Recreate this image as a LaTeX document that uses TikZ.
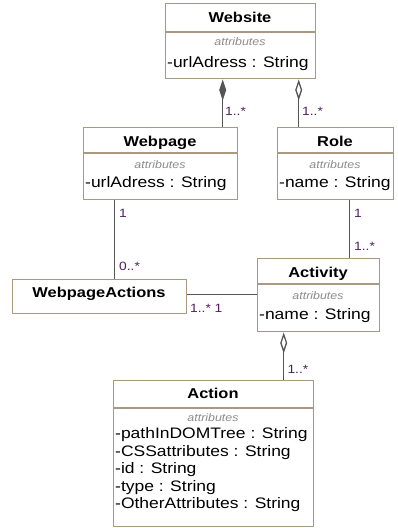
\documentclass[tikz,border=0pt]{standalone}
\usepackage{fontspec}
\setmainfont{Liberation Sans}[FakeStretch=1.15]
\usetikzlibrary{arrows.meta,calc}
\definecolor{boxline}{RGB}{172,152,128}
\definecolor{wirecol}{RGB}{85,85,85}
\definecolor{multcol}{RGB}{80,30,95}
\definecolor{tagcol}{RGB}{140,140,140}

\begin{document}
\begin{tikzpicture}[x=1pt,y=-1pt,
  cls/.style={draw=boxline, line width=1.4pt, fill=white, inner sep=0pt, anchor=north west},
  divider/.style={draw=boxline, line width=1.4pt},
  ctitle/.style={font=\fontsize{14.3}{16}\selectfont\bfseries, inner sep=0pt, anchor=base},
  ctag/.style={font=\fontsize{10.8}{12}\selectfont\itshape, text=tagcol, inner sep=0pt, anchor=base},
  cattr/.style={font=\fontsize{15.2}{17.5}\selectfont, inner sep=0pt, anchor=base west},
  mult/.style={font=\fontsize{12}{14}\selectfont, text=multcol, inner sep=0pt, anchor=base west},
  wire/.style={draw=wirecol, line width=1.3pt},
  compo/.style={wire, {Diamond[length=21pt,width=7pt,fill=wirecol]}-},
  aggr/.style={wire, {Diamond[open,length=21pt,width=7pt,fill=white]}-}
]
\fill[white] (0,0) rectangle (398,528);
\useasboundingbox (0,0) rectangle (398,528);

% Website
\node[cls, minimum width=150pt, minimum height=75pt] (website) at (165,3) {};
\draw[divider] ([yshift=-29pt]website.north west) -- ([yshift=-29pt]website.north east);
\node[ctitle] (websiteT) at (240,22.5) {Website};
\node[ctag] (websiteS) at (240,45.5) {attributes};
\node[cattr] (websiteA) at (167,67) {-urlAdress : String};

% Webpage
\node[cls, minimum width=154pt, minimum height=72pt] (webpage) at (83,127) {};
\draw[divider] ([yshift=-26pt]webpage.north west) -- ([yshift=-26pt]webpage.north east);
\node[ctitle] (webpageT) at (160,146) {Webpage};
\node[ctag] (webpageS) at (160,168) {attributes};
\node[cattr] (webpageA) at (85,187) {-urlAdress : String};

% Role
\node[cls, minimum width=116pt, minimum height=72pt] (role) at (277,127) {};
\draw[divider] ([yshift=-26pt]role.north west) -- ([yshift=-26pt]role.north east);
\node[ctitle] (roleT) at (335,146) {Role};
\node[ctag] (roleS) at (335,168) {attributes};
\node[cattr] (roleA) at (279,187) {-name : String};

% WebpageActions
\node[cls, minimum width=174pt, minimum height=34pt] (wpa) at (12,279) {};
\node[ctitle] (wpaT) at (99,297.3) {WebpageActions};

% Activity
\node[cls, minimum width=122pt, minimum height=73pt] (activity) at (257,258) {};
\draw[divider] ([yshift=-26pt]activity.north west) -- ([yshift=-26pt]activity.north east);
\node[ctitle] (activityT) at (318,277.3) {Activity};
\node[ctag] (activityS) at (318,299.3) {attributes};
\node[cattr] (activityA) at (259,319) {-name : String};

% Action
\node[cls, minimum width=200pt, minimum height=146pt] (action) at (113,380) {};
\draw[divider] ([yshift=-28pt]action.north west) -- ([yshift=-28pt]action.north east);
\node[ctitle] (actionT) at (213,398.3) {Action};
\node[ctag] (actionS) at (213,421) {attributes};
\node[cattr] (actionA1) at (115,438.5) {-pathInDOMTree : String};
\node[cattr] (actionA2) at (115,456) {-CSSattributes : String};
\node[cattr] (actionA3) at (115,473.5) {-id : String};
\node[cattr] (actionA4) at (115,491) {-type : String};
\node[cattr] (actionA5) at (115,508.5) {-OtherAttributes : String};

% Associations
\draw[compo] ([xshift=-18pt]website.south) -- ([xshift=62pt]webpage.north);
\draw[aggr] ([xshift=58pt]website.south) -- ([xshift=-37pt]role.north);
\draw[wire] ([xshift=-46pt]webpage.south) -- ([xshift=15pt]wpa.north);
\draw[wire] ([xshift=14pt]role.south) -- ([xshift=31pt]activity.north);
\draw[wire] ([yshift=2pt]wpa.east) -- ([yshift=2pt]wpa.east -| activity.west);
\draw[aggr] ([xshift=-35pt]activity.south) -- ([xshift=70pt]action.north);

% Multiplicities
\node[mult] (m1) at (225,115) {1..*};
\node[mult] (m2) at (302,115) {1..*};
\node[mult] (m3) at (119,217.3) {1};
\node[mult] (m4) at (119,270.7) {0..*};
\node[mult] (m5) at (354,217.3) {1};
\node[mult] (m6) at (354,250.7) {1..*};
\node[mult] (m7) at (190,312.7) {1..* 1};
\node[mult] (m8) at (287.3,373.3) {1..*};
\end{tikzpicture}
\end{document}
